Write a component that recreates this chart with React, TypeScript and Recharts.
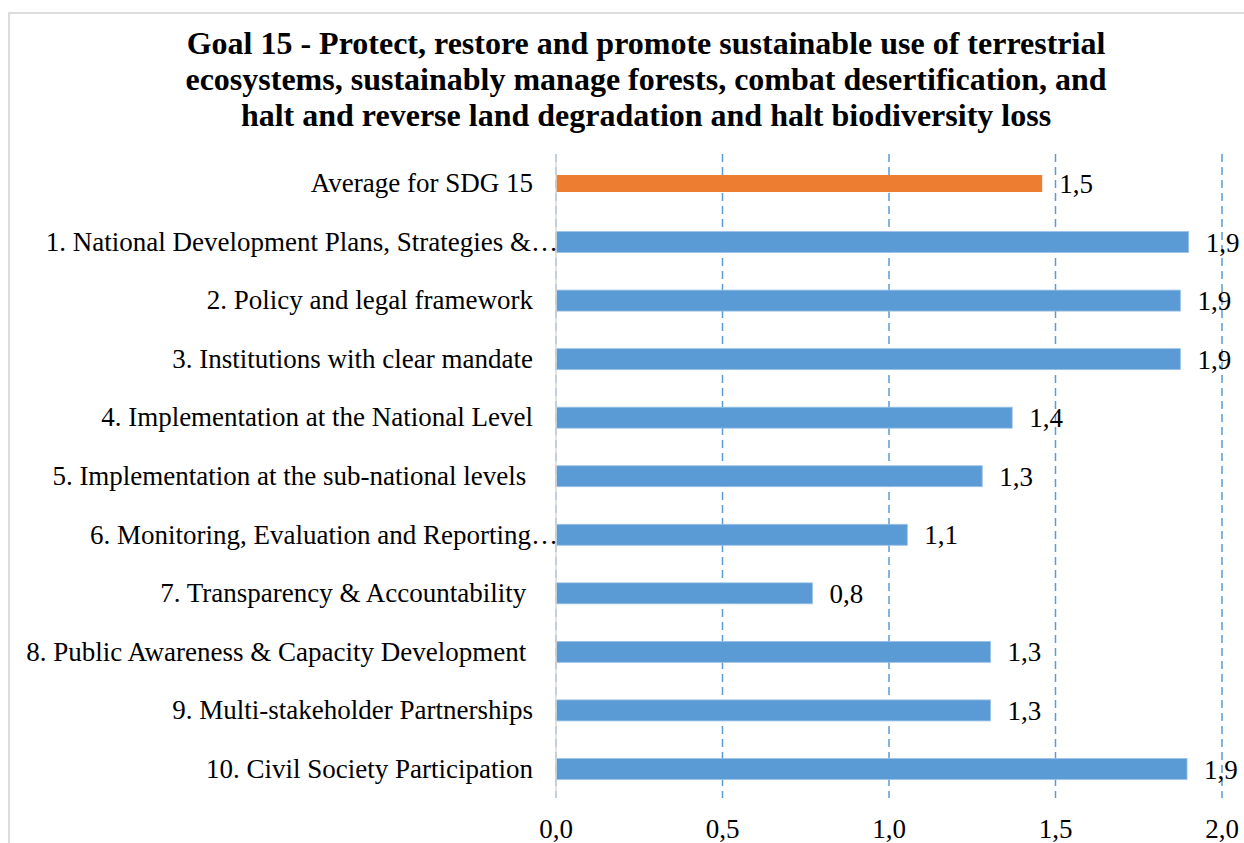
import { BarChart, Bar, XAxis, YAxis, CartesianGrid, Cell, LabelList } from "recharts";

// categories as printed on the axis (Excel clips two of them with an ellipsis,
// three carry a trailing space)
const CATEGORIES = [
  "Average for SDG 15",
  "1. National Development Plans, Strategies &…",
  "2. Policy and legal framework",
  "3. Institutions with clear mandate",
  "4. Implementation at the National Level",
  "5. Implementation at the sub-national levels ",
  "6. Monitoring, Evaluation and Reporting…",
  "7. Transparency & Accountability ",
  "8. Public Awareness & Capacity Development ",
  "9. Multi-stakeholder Partnerships",
  "10. Civil Society Participation",
];

const SCORES = [1.46, 1.9, 1.875, 1.875, 1.37, 1.28, 1.055, 0.77, 1.305, 1.305, 1.895];

const X_TICKS = [0, 0.5, 1, 1.5, 2];

const TITLE_LINES = [
  "Goal 15 - Protect, restore and promote sustainable use of terrestrial",
  "ecosystems, sustainably manage forests, combat desertification, and",
  "halt and reverse land degradation and halt biodiversity loss",
];

const data = CATEGORIES.map((name, i) => ({ name, value: SCORES[i] }));

const FONT = "'Liberation Serif', 'Times New Roman', serif";
const BLUE = "#5b9bd5";
const ORANGE = "#ed7d31";
const FS = 27;

const comma = (v: number) => Number(v).toFixed(1).replace(".", ",");

function CategoryTick({ x, y, payload }: any) {
  const clipped = String(payload.value).endsWith("…");
  return (
    <text
      x={x}
      y={y}
      dx={clipped ? 25 : 0}
      textAnchor="end"
      dominantBaseline="central"
      xmlSpace="preserve"
      style={{ fontFamily: FONT, fontSize: FS, fill: "#000" }}
    >
      {payload.value}
    </text>
  );
}

function ScoreBar(props: any) {
  const { x, y, width, height, fill, index } = props;
  // the average bar is drawn a little thinner than the others
  const inset = index === 0 ? 2 : 0;
  return (
    <rect
      x={x}
      y={y + inset}
      width={width}
      height={height - inset * 2}
      fill={fill}
      stroke={index === 0 ? "none" : "#9dc3e6"}
      strokeWidth={0.8}
    />
  );
}

export default function App() {
  return (
    // pinned to the window so nothing makes the page scroll
    <div
      style={{
        position: "fixed",
        left: 0,
        top: 0,
        width: 1244,
        height: 843,
        overflow: "hidden",
        background: "#fff",
        fontFamily: FONT,
      }}
    >
      {/* chart frame */}
      <div
        style={{
          position: "absolute",
          left: 8,
          top: 12,
          right: 0,
          bottom: 0,
          borderLeft: "2px solid #dcdcdc",
          borderTop: "2px solid #dcdcdc",
        }}
      />
      <div
        style={{
          position: "absolute",
          top: 25,
          left: 76,
          width: 1140,
          textAlign: "center",
          fontWeight: "bold",
          fontSize: 32,
          lineHeight: "36px",
          color: "#000",
          whiteSpace: "nowrap",
        }}
      >
        {TITLE_LINES.map((l) => (
          <div key={l}>{l}</div>
        ))}
      </div>
      <div style={{ position: "absolute", left: 0, top: 0 }}>
        <BarChart
          width={1244}
          height={843}
          data={data}
          layout="vertical"
          margin={{ top: 154, right: 22, left: 0, bottom: 0 }}
        >
          <CartesianGrid
            horizontal={false}
            vertical={true}
            stroke={BLUE}
            strokeWidth={1.5}
            strokeDasharray="8 5"
          />
          <XAxis
            type="number"
            domain={[0, 2]}
            ticks={X_TICKS}
            tickFormatter={comma}
            axisLine={false}
            tickLine={false}
            tickMargin={15}
            height={45}
            tick={{ fontSize: FS, fill: "#000", fontFamily: FONT }}
          />
          <YAxis
            type="category"
            dataKey="name"
            width={556}
            interval={0}
            axisLine={{ stroke: "#d9d9d9", strokeWidth: 1.5 }}
            tickLine={false}
            tickSize={0}
            tickMargin={23}
            tick={<CategoryTick />}
          />
          <Bar dataKey="value" barSize={21} isAnimationActive={false} shape={<ScoreBar />}>
            {data.map((d, i) => (
              <Cell key={d.name} fill={i === 0 ? ORANGE : BLUE} />
            ))}
            <LabelList
              dataKey="value"
              position="right"
              offset={17}
              formatter={(v: any) => comma(v)}
              style={{ fontSize: FS, fill: "#000", fontFamily: FONT }}
            />
          </Bar>
        </BarChart>
      </div>
    </div>
  );
}
